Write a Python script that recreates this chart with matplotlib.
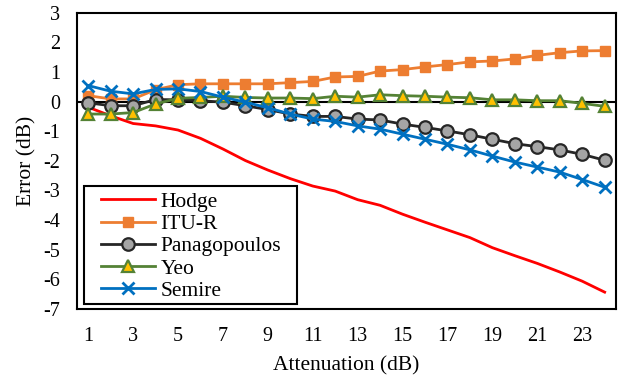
import matplotlib
matplotlib.use("Agg")
import matplotlib.pyplot as plt
from matplotlib.patches import Rectangle

plt.rcParams['font.family'] = ['Liberation Serif', 'DejaVu Serif']
plt.rcParams['axes.unicode_minus'] = False

# data
attenuation = list(range(1, 25))
hodge = [-0.19, -0.48, -0.74, -0.82, -0.96, -1.24, -1.60, -1.99, -2.31, -2.60, -2.85, -3.02,
         -3.31, -3.50, -3.80, -4.07, -4.33, -4.59, -4.93, -5.20, -5.46, -5.75, -6.06, -6.43]
itu_r = [0.20, 0.09, 0.09, 0.40, 0.57, 0.60, 0.60, 0.60, 0.60, 0.64, 0.68, 0.83,
         0.85, 1.03, 1.08, 1.17, 1.25, 1.34, 1.37, 1.44, 1.56, 1.65, 1.71, 1.72]
panagopoulos = [-0.04, -0.14, -0.14, 0.07, 0.06, 0.03, -0.02, -0.14, -0.27, -0.42, -0.50, -0.50,
                -0.59, -0.62, -0.76, -0.87, -0.99, -1.12, -1.27, -1.42, -1.52, -1.63, -1.78, -1.98]
yeo = [-0.42, -0.42, -0.37, -0.08, 0.11, 0.14, 0.18, 0.14, 0.12, 0.12, 0.10, 0.18,
       0.15, 0.23, 0.20, 0.18, 0.15, 0.13, 0.06, 0.06, 0.03, 0.03, -0.06, -0.16]
semire = [0.54, 0.35, 0.26, 0.41, 0.43, 0.34, 0.15, -0.02, -0.21, -0.42, -0.59, -0.67,
          -0.82, -0.93, -1.10, -1.27, -1.44, -1.63, -1.84, -2.04, -2.21, -2.38, -2.63, -2.89]

fig = plt.figure(figsize=(6.24, 3.82), dpi=100)
ax = fig.add_axes([0.1234, 0.191, 0.8636, 0.7758])

# horizontal axis line at zero
ax.axhline(0, color='black', linewidth=1.5, zorder=1)

ax.plot(attenuation, hodge, color='#FF0000', linewidth=2, label='Hodge', zorder=2)
ax.plot(attenuation, itu_r, color='#ED7D31', linewidth=2, marker='s', markersize=7.5,
        markerfacecolor='#ED7D31', markeredgecolor='#ED7D31', label='ITU-R', zorder=3)
ax.plot(attenuation, panagopoulos, color='#262626', linewidth=2, marker='o', markersize=9,
        markerfacecolor='#A5A5A5', markeredgecolor='#262626', markeredgewidth=1.6,
        label='Panagopoulos', zorder=4)
ax.plot(attenuation, yeo, color='#548235', linewidth=2, marker='^', markersize=9,
        markerfacecolor='#FFC000', markeredgecolor='#548235', markeredgewidth=1.6,
        label='Yeo', zorder=5)
ax.plot(attenuation, semire, color='#0070C0', linewidth=2, marker='x', markersize=8.5,
        markeredgewidth=2, label='Semire', zorder=6)

ax.set_xlim(0.5, 24.5)
ax.set_ylim(-7, 3)
ax.set_xticks(range(1, 24, 2))
ax.set_yticks(range(-7, 4))
ax.tick_params(axis='both', length=0, labelsize=14.5, colors='black')
ax.tick_params(axis='x', pad=13)
ax.tick_params(axis='y', pad=12)

for s in ax.spines.values():
    s.set_linewidth(1.5)
    s.set_color('black')

ax.set_xlabel('Attenuation (dB)', fontsize=15.5, labelpad=7)
ax.set_ylabel('Error (dB)', fontsize=15.5, labelpad=5)

leg = ax.legend(loc='lower left', bbox_to_anchor=(0.045, 0.028), borderaxespad=0,
                fontsize=15.5, frameon=False,
                handlelength=2.5, handletextpad=0.25, labelspacing=0.1, borderpad=0)
# legend box (wider horizontal padding than matplotlib's uniform borderpad)
ax.add_patch(Rectangle((0.013, 0.017), 0.395, 0.397, transform=ax.transAxes,
                       facecolor='white', edgecolor='black', linewidth=1.5, zorder=7))
leg.set_zorder(8)

fig.savefig('out.png', dpi=100)
